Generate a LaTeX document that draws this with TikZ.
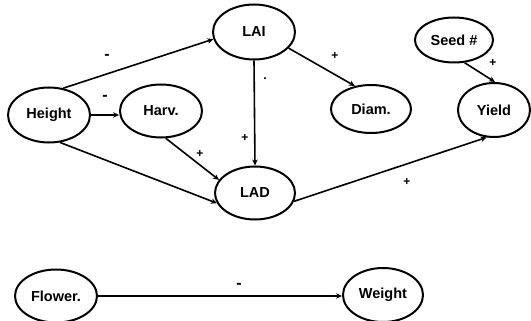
\documentclass[tikz,border=0pt]{standalone}
\usepackage{fontspec}
\setmainfont{Liberation Sans}
\usetikzlibrary{shapes.geometric,arrows.meta}
\begin{document}
\begin{tikzpicture}[x=1pt,y=-1pt,
  var/.style={ellipse,draw,line width=2pt,inner sep=0pt,
    font=\fontsize{14.5}{16}\selectfont\bfseries},
  link/.style={line width=1.6pt,-{Stealth[length=6pt,width=5.5pt]}},
  sign/.style={font=\fontsize{12}{14}\selectfont\bfseries,inner sep=0pt},
  negsign/.style={font=\fontsize{16}{18}\selectfont\bfseries,inner sep=0pt}]
\useasboundingbox (0,0) rectangle (531,321);
% variables
\node[var,minimum width=82pt,minimum height=55pt] (height) at (49,115) {Height};
\node[var,minimum width=82pt,minimum height=53pt] (harv) at (161,111) {Harv.};
\node[var,minimum width=82pt,minimum height=55pt] (lai) at (254,32) {LAI};
\node[var,minimum width=80pt,minimum height=48pt] (diam) at (371,109) {Diam.};
\node[var,minimum width=78pt,minimum height=45pt] (seed) at (454,40) {Seed \#};
\node[var,minimum width=72pt,minimum height=54pt] (yield) at (494,110) {Yield};
\node[var,minimum width=80pt,minimum height=53pt] (lad) at (255,193) {LAD};
\node[var,minimum width=82pt,minimum height=53pt] (flower) at (56,296) {Flower.};
\node[var,minimum width=80pt,minimum height=54pt] (weight) at (383,295) {Weight};
% effects
\draw[link] (height.62) -- (lai.190);
\draw[link] (height.east) -- (height.east -| harv.west);
\draw[link] (height.-68) -- (lad.195);
\draw[link] (harv.-80) -- (lad.160);
\draw[link] (lai.south) -- (lad.north);
\draw[link] (lai.-25) -- (diam.125);
\draw[link] (seed.-65) -- (yield.88);
\draw[link] (lad.-12) -- (yield.-105);
\draw[link] (flower.east) -- (flower.east -| weight.west);
% signs
\node[negsign] (s1) at (107,57) {-};
\node[negsign] (s2) at (105,98) {-};
\node[sign] (s3) at (245,138) {+};
\node[sign] (s4) at (265,79) {.};
\node[sign] (s5) at (200,154) {+};
\node[sign] (s6) at (335,56) {+};
\node[sign] (s7) at (493,63) {+};
\node[sign] (s8) at (407,182) {+};
\node[negsign] (s9) at (239,286) {-};
\end{tikzpicture}
\end{document}
